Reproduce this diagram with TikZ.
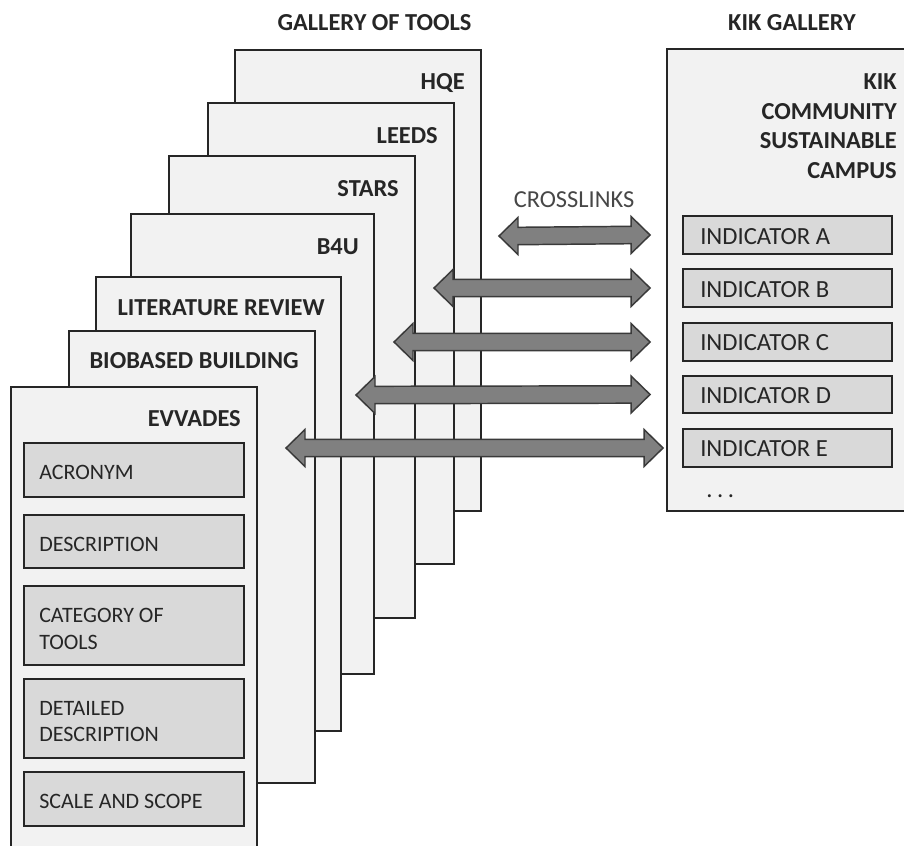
\documentclass[tikz,border=0pt]{standalone}
\usepackage{fontspec}
\setmainfont{Carlito}
\usetikzlibrary{calc,fit}
\definecolor{cardfill}{HTML}{F2F2F2}
\definecolor{subfill}{HTML}{D9D9D9}
\definecolor{arrfill}{HTML}{808080}
\definecolor{arrline}{HTML}{3A3A3A}
\definecolor{ink}{HTML}{262626}
\definecolor{lineink}{HTML}{262626}
\tikzset{
  card/.style={draw=lineink, line width=1.1pt, fill=cardfill, inner sep=0pt},
  subbox/.style={draw=lineink, line width=1.4pt, fill=subfill, inner sep=0pt},
  ttl/.style={font=\fontsize{18.3}{22.3}\selectfont\bfseries, text=ink, inner sep=0pt},
  lbl/.style={font=\fontsize{16.5}{20}\selectfont, text=ink, inner sep=0pt},
  ilbl/.style={font=\fontsize{18.5}{20}\selectfont, text=ink, inner sep=0pt},
  xarrow/.style={draw=arrline, line width=1.1pt, fill=arrfill},
}
\newcommand\blockarrow[2]{%
  \draw[xarrow] (#1) -- ($(#1)+(19,-18.5)$) -- ($(#1)+(19,-8.7)$)
    -- ($(#2)+(-19,-8.7)$) -- ($(#2)+(-19,-18.5)$) -- (#2)
    -- ($(#2)+(-19,18.5)$) -- ($(#2)+(-19,8.7)$)
    -- ($(#1)+(19,8.7)$) -- ($(#1)+(19,18.5)$) -- cycle;}
\begin{document}
\begin{tikzpicture}[x=0.75pt, y=-0.75pt]
\useasboundingbox (0,0) rectangle (904,846);
\clip (0,0) rectangle (904,846);
\fill[white] (0,0) rectangle (904,846);

% headings
\node[ttl, anchor=north] (gtools) at (374.5,14.3) {GALLERY OF TOOLS};
\node[ttl, anchor=north] (gkik) at (792,14.3) {KIK GALLERY};

% stack of tool cards, back to front
\node[card, fit={(235,50) (481,511)}] (hqe) {};
\node[ttl, anchor=north east] (hqeT) at (465,73.3) {HQE};
\node[card, fit={(208,103) (454,564)}] (leeds) {};
\node[ttl, anchor=north east] (leedsT) at (438,127.3) {LEEDS};
\node[card, fit={(169,156) (415,618)}] (stars) {};
\node[ttl, anchor=north east] (starsT) at (399,180.3) {STARS};
\node[card, fit={(131,214) (374,674)}] (b4u) {};
\node[ttl, anchor=north east] (b4uT) at (359,238.3) {B4U};
\node[card, fit={(96,277) (341,731)}] (lit) {};
\node[ttl, anchor=north east] (litT) at (325,299.3) {LITERATURE REVIEW};
\node[card, fit={(69,331) (315,783)}] (bio) {};
\node[ttl, anchor=north east] (bioT) at (299,352.3) {BIOBASED BUILDING};
\node[card, fit={(11,387) (257,900)}] (evv) {};
\node[ttl, anchor=north east] (evvT) at (241,410.3) {EVVADES};

% fields of the front card
\node[subbox, fit={(24,443) (244,497)}] (acr) {};
\node[lbl, anchor=north west] (acrT) at (39,465) {ACRONYM};
\node[subbox, fit={(24,515) (244,568)}] (desc) {};
\node[lbl, anchor=north west] (descT) at (39,537) {DESCRIPTION};
\node[subbox, fit={(24,586) (244,665)}] (cat) {};
\node[lbl, anchor=north west, align=left, font=\fontsize{16.5}{20.25}\selectfont] (catT) at (39,608) {CATEGORY OF\\TOOLS};
\node[subbox, fit={(24,679) (244,758)}] (det) {};
\node[lbl, anchor=north west, align=left, font=\fontsize{16.5}{19.5}\selectfont] (detT) at (39,701) {DETAILED\\DESCRIPTION};
\node[subbox, fit={(24,772) (244,826)}] (scale) {};
\node[lbl, anchor=north west] (scaleT) at (39,794) {SCALE AND SCOPE};

% KIK gallery card
\node[card, fit={(667,49) (920,511)}] (kik) {};
\node[ttl, anchor=north east, align=right] (kikT) at (897,73.3) {KIK\\COMMUNITY\\SUSTAINABLE\\CAMPUS};
\node[subbox, fit={(683,216) (892,254)}] (indA) {};
\node[ilbl, anchor=north west] (indAT) at (700,228.3) {INDICATOR A};
\node[subbox, fit={(683,269) (892,307)}] (indB) {};
\node[ilbl, anchor=north west] (indBT) at (700,280.8) {INDICATOR B};
\node[subbox, fit={(683,323) (892,361)}] (indC) {};
\node[ilbl, anchor=north west] (indCT) at (700,334.3) {INDICATOR C};
\node[subbox, fit={(683,376) (892,413)}] (indD) {};
\node[ilbl, anchor=north west] (indDT) at (700,387.3) {INDICATOR D};
\node[subbox, fit={(683,429) (892,467)}] (indE) {};
\node[ilbl, anchor=north west] (indET) at (700,440.3) {INDICATOR E};
\node[ilbl, anchor=base west] (more) at (706,497) {.\kern3.4pt.\kern3.4pt.};

% crosslinks
\node[ilbl, anchor=north, text=ink!85, font=\fontsize{18.3}{20}\selectfont] (cross) at (574,191.3) {CROSSLINKS};
\coordinate (aAl) at (499,236);
\coordinate (aAr) at ($(indA.west)+(-32,0)$);
\coordinate (aBl) at (434,288);
\coordinate (aBr) at ($(indB.west)+(-32,0)$);
\coordinate (aCl) at (394,342);
\coordinate (aCr) at ($(indC.west)+(-32,0)$);
\coordinate (aDl) at (356,395);
\coordinate (aDr) at ($(indD.west)+(-32,0)$);
\coordinate (aEl) at (286,448);
\coordinate (aEr) at ($(indE.west)+(-19,0)$);
\blockarrow{aAl}{aAr}
\blockarrow{aBl}{aBr}
\blockarrow{aCl}{aCr}
\blockarrow{aDl}{aDr}
\blockarrow{aEl}{aEr}
\end{tikzpicture}
\end{document}
